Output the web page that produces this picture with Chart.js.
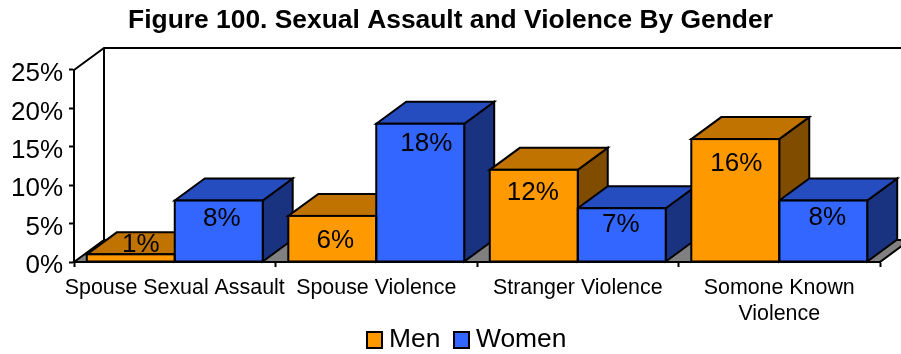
<!DOCTYPE html>
<html>
<head>
<meta charset="utf-8">
<script src="https://cdn.jsdelivr.net/npm/chart.js@4"></script>
<style>
  html, body { margin: 0; padding: 0; background: #fff; }
  canvas { display: block; }
</style>
</head>
<body>
<canvas id="canvas" width="901" height="354"></canvas>
<script>
const categories = ["Spouse Sexual Assault", "Spouse Violence", "Stranger Violence", ["Somone Known", "Violence"]];
const men = [1, 6, 12, 16];
const women = [8, 18, 7, 8];
const yTicks = [0, 5, 10, 15, 20, 25];

const FONT = '"Liberation Sans", Arial, sans-serif';
const DEPTH_X = 30;
const DEPTH_Y = -22;

// per dataset colours: front, top, side
const faces = [
  { front: "#FF9900", top: "#C07300", side: "#804D00" },
  { front: "#3366FF", top: "#264DBF", side: "#1A3380" }
];
// the value labels sit a bit off centre in the original
const labelShift = [
  [[10, -9], [3, 25], [-1, 23], [1, 25]],
  [[3, 18], [6, 20], [-1, 17], [4, 17]]
];

function poly(ctx, pts, fill) {
  ctx.beginPath();
  pts.forEach((p, i) => i ? ctx.lineTo(p[0], p[1]) : ctx.moveTo(p[0], p[1]));
  ctx.closePath();
  if (fill) { ctx.fillStyle = fill; ctx.fill(); }
  ctx.stroke();
}

const box3d = {
  id: "box3d",
  afterLayout(chart) {
    // title is centred on the page, not on the plot
    chart.titleBlock.right = chart.width;
  },
  beforeDatasetsDraw(chart) {
    const { ctx, chartArea: a } = chart;
    ctx.save();
    ctx.strokeStyle = "#000";
    ctx.lineWidth = 2;
    // floor and walls
    poly(ctx, [[a.left, a.bottom], [a.left + DEPTH_X, a.bottom + DEPTH_Y], [a.right + DEPTH_X, a.bottom + DEPTH_Y], [a.right, a.bottom]], "#808080");
    ctx.beginPath();
    ctx.moveTo(a.left, a.top);
    ctx.lineTo(a.left + DEPTH_X, a.top + DEPTH_Y);
    ctx.lineTo(a.right + DEPTH_X, a.top + DEPTH_Y);
    ctx.moveTo(a.left + DEPTH_X, a.top + DEPTH_Y);
    ctx.lineTo(a.left + DEPTH_X, a.bottom + DEPTH_Y);
    ctx.stroke();
    // tops and sides, left to right so nearer bars cover the earlier ones
    categories.forEach((c, i) => {
      faces.forEach((f, d) => {
        const el = chart.getDatasetMeta(d).data[i];
        const l = el.x - el.width / 2, r = el.x + el.width / 2;
        poly(ctx, [[r, el.y], [r + DEPTH_X, el.y + DEPTH_Y], [r + DEPTH_X, el.base + DEPTH_Y], [r, el.base]], f.side);
        poly(ctx, [[l, el.y], [l + DEPTH_X, el.y + DEPTH_Y], [r + DEPTH_X, el.y + DEPTH_Y], [r, el.y]], f.top);
      });
    });
    ctx.restore();
  },
  afterDatasetsDraw(chart) {
    const { ctx } = chart;
    ctx.save();
    ctx.strokeStyle = "#000";
    ctx.lineWidth = 2;
    faces.forEach((f, d) => {
      chart.getDatasetMeta(d).data.forEach((el) => {
        ctx.strokeRect(el.x - el.width / 2, el.y, el.width, el.base - el.y);
      });
    });
    // value labels
    ctx.fillStyle = "#000";
    ctx.font = "26px " + FONT;
    ctx.textAlign = "center";
    ctx.textBaseline = "middle";
    chart.data.datasets.forEach((ds, d) => {
      chart.getDatasetMeta(d).data.forEach((el, i) => {
        const s = labelShift[d][i];
        ctx.fillText(ds.data[i] + "%", el.x + s[0], el.y + s[1]);
      });
    });
    ctx.restore();
  },
  afterDraw(chart) {
    // legend, the built in one puts the text too far from the box
    const { ctx } = chart;
    ctx.save();
    ctx.font = "26.4px " + FONT;
    ctx.textBaseline = "middle";
    ctx.textAlign = "left";
    ctx.lineWidth = 2;
    ctx.strokeStyle = "#000";
    let x = 367;
    chart.data.datasets.forEach((ds) => {
      ctx.fillStyle = ds.backgroundColor;
      ctx.fillRect(x, 332, 15, 16);
      ctx.strokeRect(x, 332, 15, 16);
      ctx.fillStyle = "#000";
      ctx.fillText(ds.label, x + 22, 340);
      x += 87;
    });
    ctx.restore();
  }
};

new Chart(document.getElementById("canvas").getContext("2d"), {
  type: "bar",
  data: {
    labels: categories,
    datasets: [
      { label: "Men", data: men, backgroundColor: faces[0].front },
      { label: "Women", data: women, backgroundColor: faces[1].front }
    ]
  },
  options: {
    responsive: false,
    animation: false,
    layout: { padding: { left: 0, right: 21, top: 0, bottom: 0 } },
    datasets: { bar: { barPercentage: 1, categoryPercentage: 0.873, borderWidth: 0, inflateAmount: 0 } },
    plugins: {
      legend: { display: false },
      tooltip: { enabled: false },
      title: {
        display: true,
        text: "Figure 100. Sexual Assault and Violence By Gender",
        color: "#000",
        font: { family: FONT, size: 26.4, weight: "bold", lineHeight: 1.2 },
        padding: { top: 5, bottom: 33.3 }
      }
    },
    scales: {
      x: {
        afterFit(scale) { scale.height = 92; },
        grid: { drawOnChartArea: false, tickLength: 5, tickWidth: 2, tickColor: "#000" },
        border: { color: "#000", width: 2 },
        ticks: {
          color: "#000",
          padding: 8,
          maxRotation: 0,
          autoSkip: false,
          font: { family: FONT, size: 21.4, lineHeight: 1.22 }
        }
      },
      y: {
        min: 0,
        max: 25,
        afterFit(scale) { scale.width = 74; },
        afterBuildTicks(scale) { scale.ticks = yTicks.map((value) => ({ value })); },
        grid: { drawOnChartArea: false, tickLength: 5, tickWidth: 2, tickColor: "#000" },
        border: { color: "#000", width: 2 },
        ticks: {
          color: "#000",
          padding: 6,
          labelOffset: 4,
          font: { family: FONT, size: 26 },
          callback: (v) => v + "%"
        }
      }
    }
  },
  plugins: [box3d]
});
</script>
</body>
</html>
